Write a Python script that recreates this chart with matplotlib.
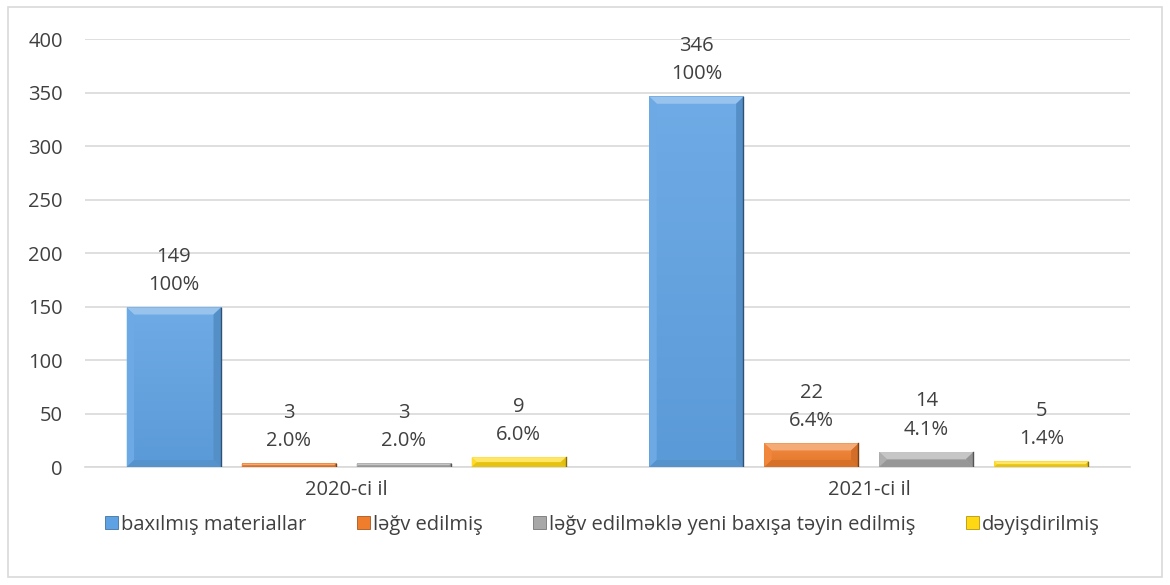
import matplotlib.pyplot as plt
import matplotlib.colors as mcolors
from matplotlib.patches import Polygon, Rectangle
import numpy as np

plt.rcParams['font.family'] = ['Open Sans', 'DejaVu Sans']

years = ['2020-ci il', '2021-ci il']
series_names = ['baxılmış materiallar', 'ləğv edilmiş',
                'ləğv edilməklə yeni baxışa təyin edilmiş', 'dəyişdirilmiş']
counts = [
    [149, 346],   # baxılmış materiallar
    [3, 22],      # ləğv edilmiş
    [3, 14],      # ləğv edilməklə yeni baxışa təyin edilmiş
    [9, 5],       # dəyişdirilmiş
]
shares = [
    ['100%', '100%'],
    ['2.0%', '6.4%'],
    ['2.0%', '4.1%'],
    ['6.0%', '1.4%'],
]
colors = ['#5FA2E3', '#EF7D2C', '#A8A8A8', '#FFD814']
yticks = [0, 50, 100, 150, 200, 250, 300, 350, 400]

text_col = '#404040'
fs = 14.5
fig = plt.figure(figsize=(11.7, 5.85), dpi=100)
fig.patches.append(Rectangle((0.007, 0.013), 0.986, 0.975, transform=fig.transFigure,
                             fill=False, edgecolor='#D9D9D9', lw=1.2))
ax = fig.add_axes([0.0726, 0.2017, 0.8934, 0.7316])

width = 0.18
step = 0.22
x = np.arange(len(years))


def shade(c, f):
    r, g, b = mcolors.to_rgb(c)
    if f > 0:
        return (r + (1 - r) * f, g + (1 - g) * f, b + (1 - b) * f)
    return (r * (1 + f), g * (1 + f), b * (1 + f))


def bevel_bar(ax, xc, h, color):
    x0, x1 = xc - width / 2, xc + width / 2
    # soft vertical gradient on the face
    grad = np.linspace(0, 1, 64).reshape(-1, 1)
    top, bot = np.array(shade(color, 0.1)), np.array(shade(color, -0.05))
    img = (bot + (top - bot) * grad[..., None]).reshape(64, 1, 3)
    ax.imshow(img, extent=(x0, x1, 0, h), origin='lower', aspect='auto',
              zorder=3, interpolation='bilinear')
    # bevel edges, sized in pixels then converted to data units
    by = min(6.5, h / 2)
    bx = 0.014 * by / 6.5
    pieces = [
        ([(x0, h), (x1, h), (x1 - bx, h - by), (x0 + bx, h - by)], 0.35),
        ([(x0, 0), (x0, h), (x0 + bx, h - by), (x0 + bx, by)], 0.08),
        ([(x1, 0), (x1, h), (x1 - bx, h - by), (x1 - bx, by)], -0.12),
        ([(x0, 0), (x1, 0), (x1 - bx, by), (x0 + bx, by)], -0.1),
    ]
    for pts, f in pieces:
        ax.add_patch(Polygon(pts, closed=True, facecolor=shade(color, f),
                             edgecolor='none', zorder=4))
    ax.plot([x1, x1], [0, h], color=shade(color, -0.5), lw=1.0, zorder=5)


for i, (name, vals) in enumerate(zip(series_names, counts)):
    pos = x + (i - 1.5) * step
    for xc, v, s in zip(pos, vals, shares[i]):
        bevel_bar(ax, xc, v, colors[i])
        ax.annotate(f'{v}\n{s}', (xc, v), xytext=(0, 9), textcoords='offset points',
                    ha='center', va='bottom', fontsize=fs, color=text_col,
                    linespacing=1.55, zorder=6)

ax.set_xlim(-0.5, 1.5)
ax.set_ylim(0, 400)
ax.set_yticks(yticks)
ax.set_xticks(x)
ax.set_xticklabels(years)
ax.tick_params(axis='both', length=0, labelsize=fs, labelcolor=text_col)
ax.tick_params(axis='y', pad=16)
ax.tick_params(axis='x', pad=9)
ax.yaxis.grid(True, color='#D9D9D9', lw=1.2, zorder=0)
ax.set_axisbelow(True)
for sp in ['top', 'right', 'left']:
    ax.spines[sp].set_visible(False)
ax.spines['bottom'].set_color('#D9D9D9')
ax.spines['bottom'].set_linewidth(1.2)

handles = [Rectangle((0, 0), 1, 1, facecolor=c, edgecolor=shade(c, -0.3), lw=0.6)
           for c in colors]
fig.legend(handles, series_names, loc='center', bbox_to_anchor=(0.515, 0.103),
           ncol=4, frameon=False, fontsize=14.5, labelcolor=text_col,
           handlelength=0.65, handleheight=0.65, handletextpad=0.15,
           columnspacing=2.5)

fig.savefig('out.png', dpi=100)
